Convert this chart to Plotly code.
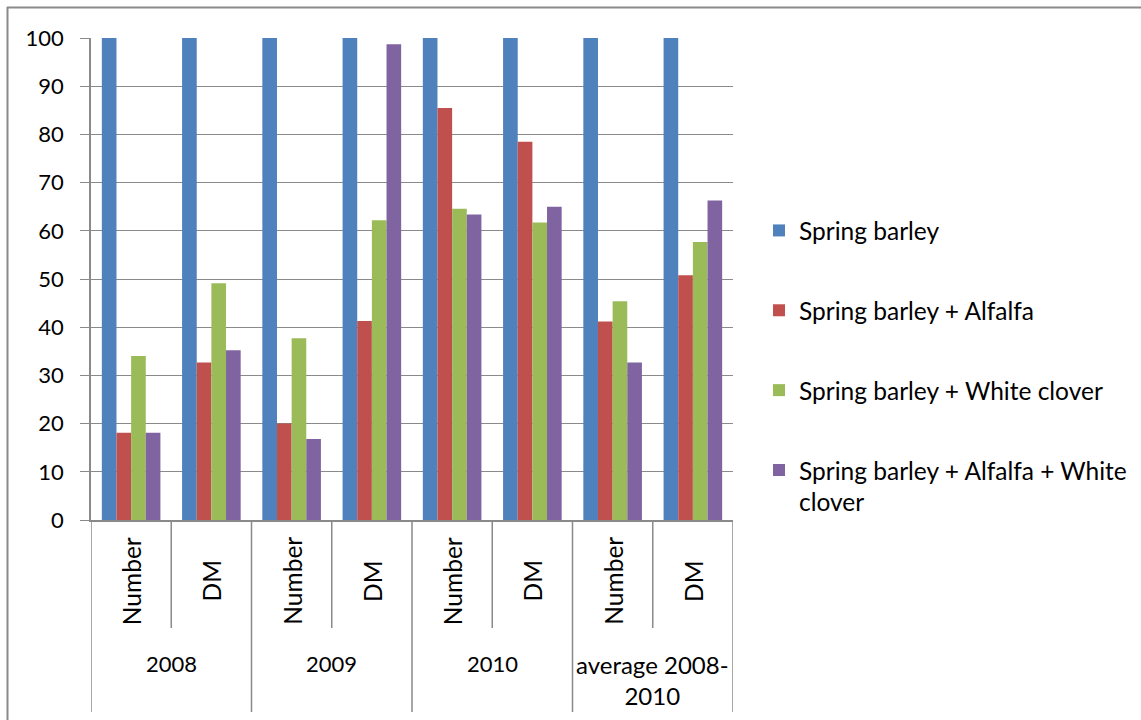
import plotly.graph_objects as go

# Grouping of the category axis
years = ["2008", "2009", "2010", "average 2008-<br>2010"]
measures = ["Number", "DM"]
categories = [f"{y} {m}" for y in years for m in measures]

# Relative values (Spring barley = 100)
spring_barley = [100, 100, 100, 100, 100, 100, 100, 100]
barley_alfalfa = [18.1, 32.7, 20.0, 41.3, 85.5, 78.5, 41.2, 50.8]
barley_clover = [34.0, 49.1, 37.7, 62.2, 64.6, 61.7, 45.4, 57.7]
barley_alfalfa_clover = [18.1, 35.2, 16.8, 98.7, 63.4, 65.0, 32.7, 66.3]

series = [
    ("Spring barley", spring_barley, "#4F81BD"),
    ("Spring barley + Alfalfa", barley_alfalfa, "#C0504D"),
    ("Spring barley + White clover", barley_clover, "#9BBB59"),
    ("Spring barley + Alfalfa + White<br>clover", barley_alfalfa_clover, "#8064A2"),
]

FONT = "Lato"
FS_NUM = 22     # numeric labels (axis ticks, years)
FS_TXT = 24.5   # word labels (legend, measures)
GRID = "#8a8a8a"

W, H = 1141, 720
L, R, T, B = 91, W - 733, 38, H - 520
plot_w = W - L - R
plot_h = H - T - B

fig = go.Figure()
for i, (name, vals, color) in enumerate(series):
    fig.add_trace(go.Bar(
        x=categories, y=vals, name=name,
        marker=dict(color=color, line=dict(width=0)),
        legendgroup=f"g{i}",
    ))

def py(px):
    """pixel row -> paper y"""
    return (H - B - px) / plot_h

def pxx(px):
    """pixel column -> paper x"""
    return (px - L) / plot_w

shapes = []
# dividers between the inner (measure) labels
for k in range(len(years)):
    xi = 2 * k + 0.5
    shapes.append(dict(type="line", xref="x", yref="paper", x0=xi, x1=xi,
                       y0=0, y1=py(628), line=dict(color=GRID, width=1.5)))
# dividers between the outer (year) labels
for k in range(len(years) + 1):
    xo = 2 * k - 0.5
    shapes.append(dict(type="line", xref="x", yref="paper", x0=xo, x1=xo,
                       y0=0, y1=py(712), line=dict(color=GRID, width=1.5)))
# chart frame
shapes.append(dict(type="line", xref="paper", yref="paper", x0=pxx(7), x1=pxx(W + 5),
                   y0=py(7.5), y1=py(7.5), line=dict(color=GRID, width=2)))
shapes.append(dict(type="line", xref="paper", yref="paper", x0=pxx(7.5), x1=pxx(7.5),
                   y0=py(7), y1=py(H + 5), line=dict(color=GRID, width=2)))

annotations = []
for k, yr in enumerate(years):
    for j, m in enumerate(measures):
        annotations.append(dict(
            x=2 * k + j, y=py(581), xref="x", yref="paper", text=m,
            textangle=-90, showarrow=False, xanchor="center", yanchor="middle",
            font=dict(family=FONT, size=FS_TXT, color="#000000"),
        ))
    two_line = "<br>" in yr
    annotations.append(dict(
        x=2 * k + 0.5, y=py(680 if two_line else 663), xref="x", yref="paper",
        text=yr, showarrow=False, xanchor="center", yanchor="middle",
        font=dict(family=FONT, size=24 if two_line else FS_NUM, color="#000000"),
    ))

fig.update_layout(
    width=W, height=H,
    margin=dict(l=L, r=R, t=T, b=B, pad=0, autoexpand=False),
    paper_bgcolor="white", plot_bgcolor="white",
    font=dict(family=FONT, size=FS_NUM, color="#000000"),
    barmode="group", bargap=0.27, bargroupgap=0,
    showlegend=True,
    legend=dict(
        x=pxx(759), xanchor="left", y=py(208), yanchor="top",
        tracegroupgap=45, valign="top",
        font=dict(family=FONT, size=FS_TXT, color="#000000"),
        bgcolor="rgba(0,0,0,0)",
    ),
    shapes=shapes,
    annotations=annotations,
)
fig.update_xaxes(
    type="category", showticklabels=False, showgrid=False, ticks="",
    showline=True, linecolor=GRID, linewidth=1.5, range=[-0.5, 7.5],
)
fig.update_yaxes(
    range=[0, 100], dtick=10, showgrid=True, gridcolor=GRID, gridwidth=1.3,
    showline=True, linecolor=GRID, linewidth=1.5,
    ticks="outside", ticklen=9, tickcolor=GRID, tickwidth=1.3,
    ticklabelstandoff=12, zeroline=False,
    tickfont=dict(family=FONT, size=FS_NUM, color="#000000"),
)

fig.write_html("out.html")
